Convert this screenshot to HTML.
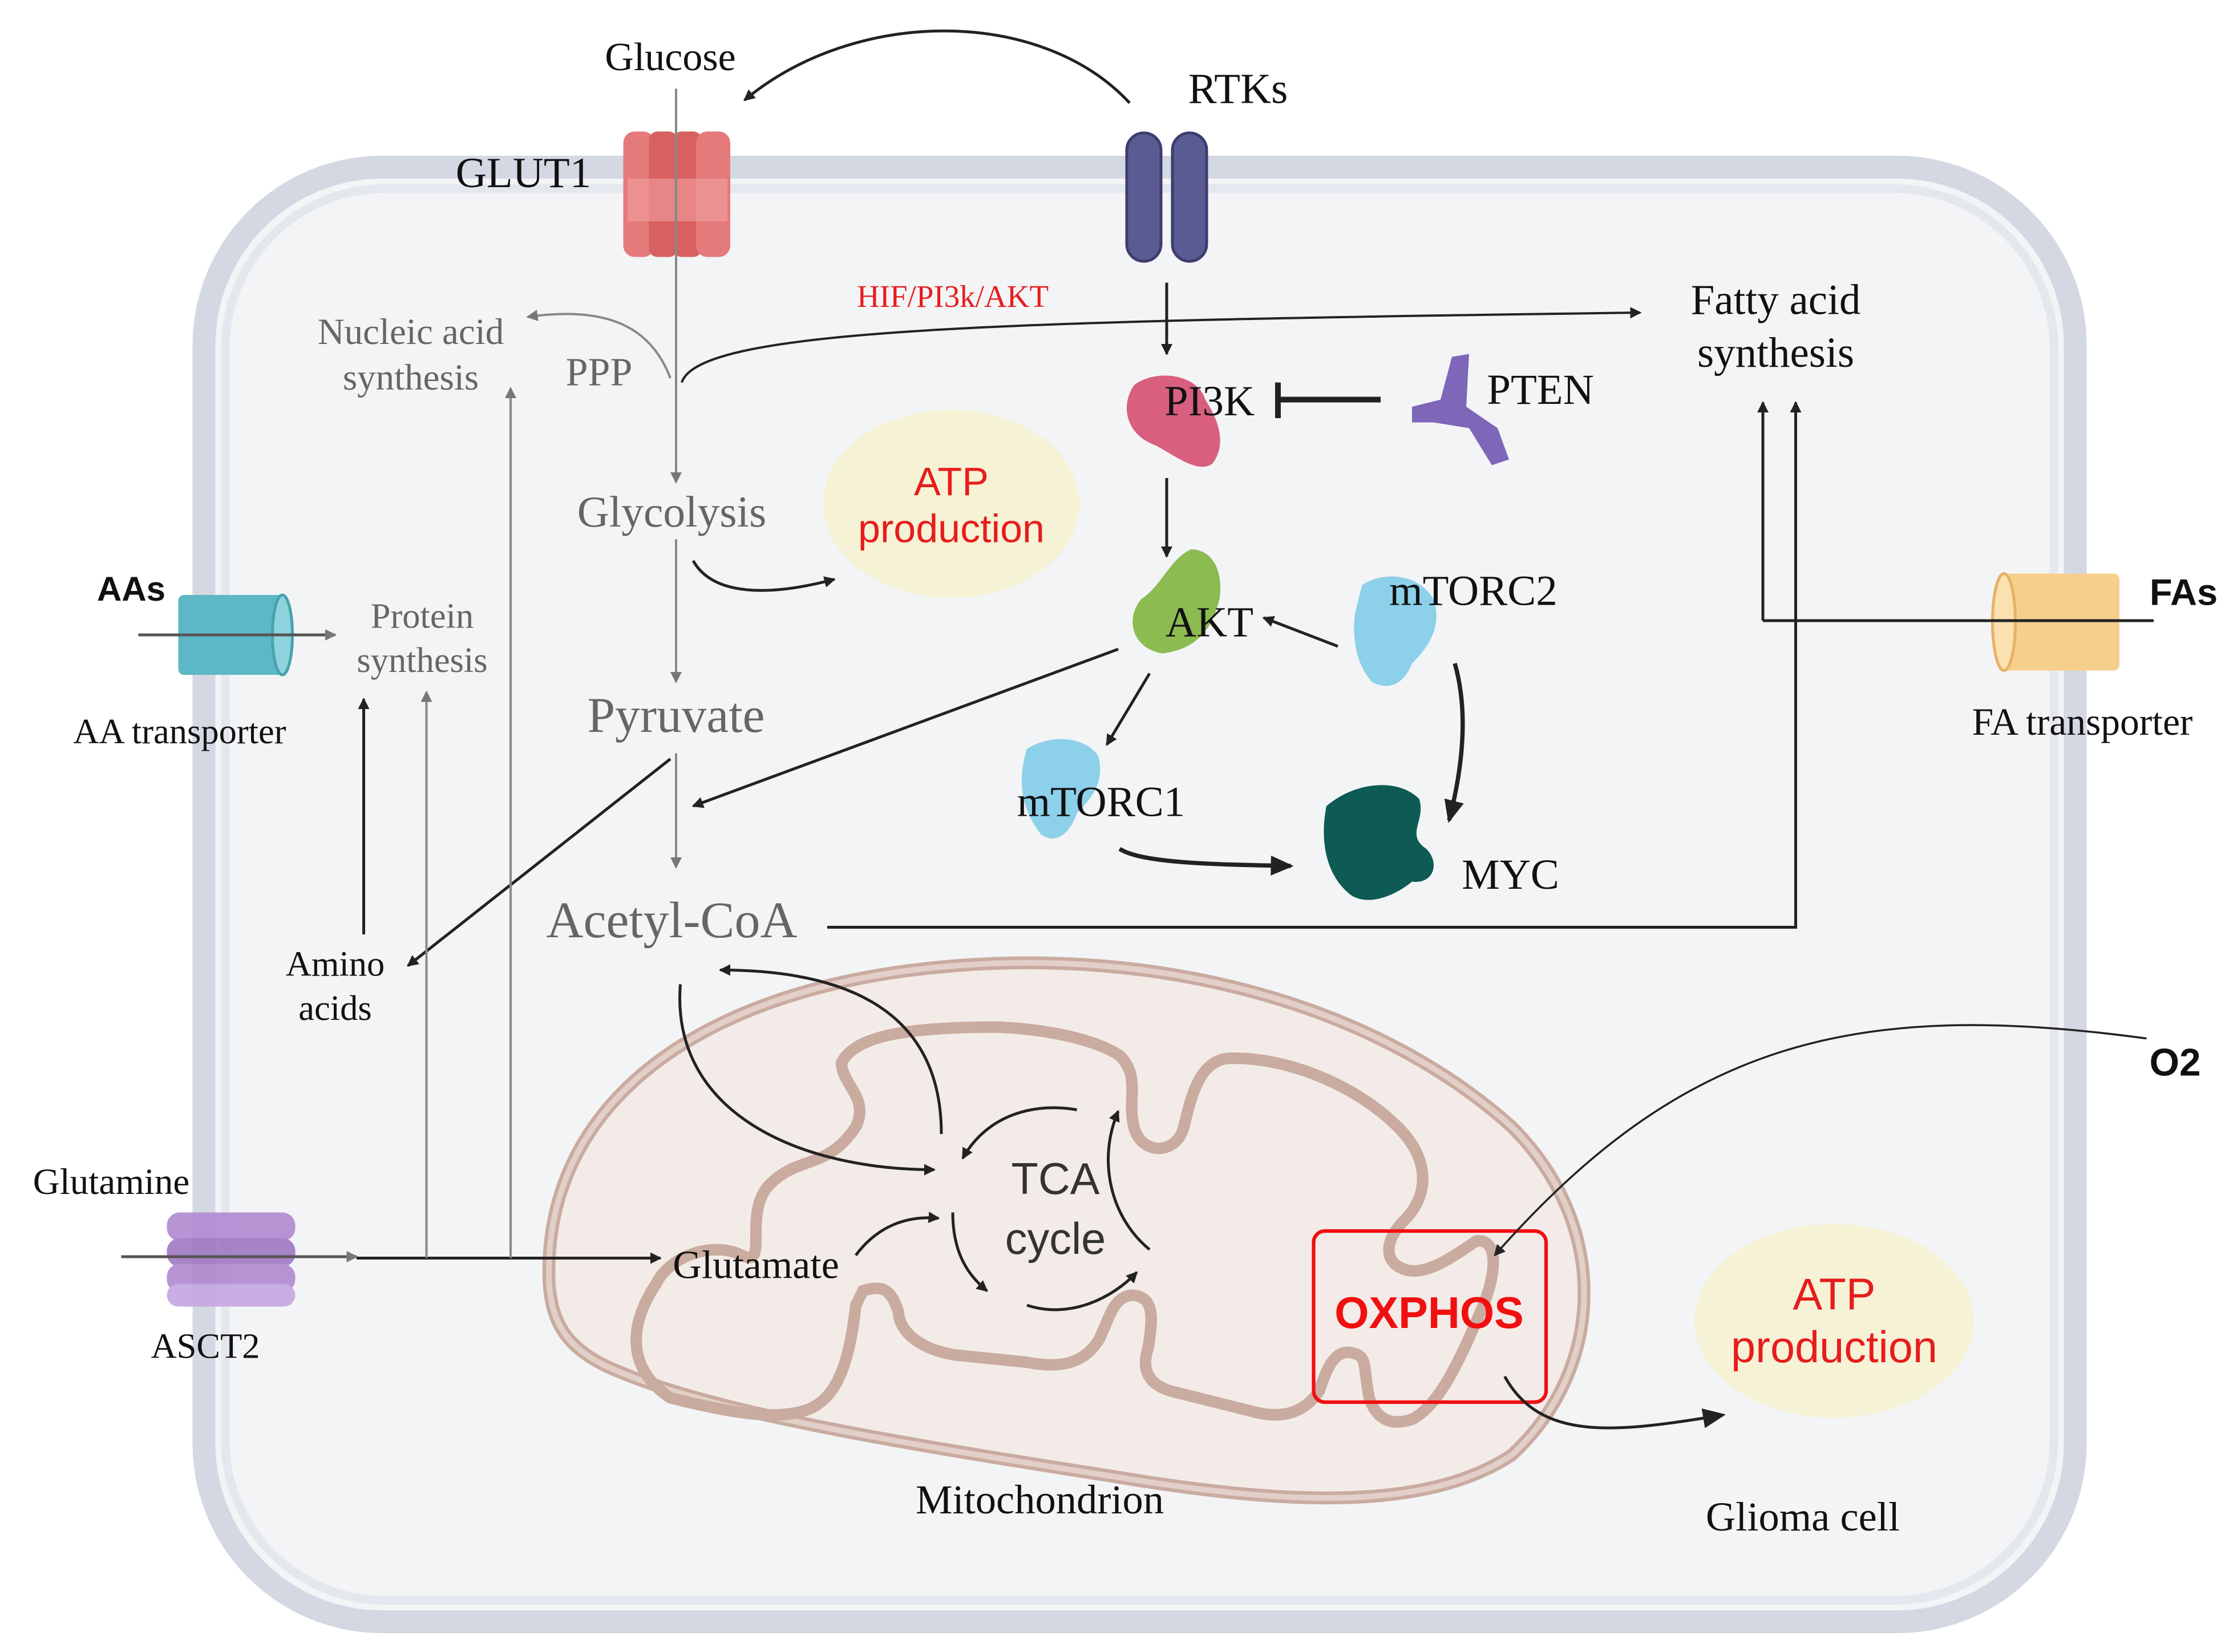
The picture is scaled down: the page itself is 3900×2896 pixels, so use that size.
<!DOCTYPE html>
<html><head><meta charset="utf-8"><style>
html,body{margin:0;padding:0;background:#fff;}
svg{display:block;}
.s{font-family:"Liberation Serif",serif;}
.a{font-family:"Liberation Sans",sans-serif;}
</style></head><body>
<svg width="3900" height="2896" viewBox="0 0 1560 1158" xmlns="http://www.w3.org/2000/svg">
<defs>
<marker id="ar" markerWidth="8" markerHeight="8" refX="7" refY="4" orient="auto" markerUnits="userSpaceOnUse"><path d="M0,0 L8,4 L0,8 Z" fill="#222"/></marker>
<marker id="ag" markerWidth="8" markerHeight="8" refX="7" refY="4" orient="auto" markerUnits="userSpaceOnUse"><path d="M0,0 L8,4 L0,8 Z" fill="#777"/></marker>
<marker id="ab" markerWidth="16" markerHeight="14" refX="14" refY="7" orient="auto" markerUnits="userSpaceOnUse"><path d="M0,0 L16,7 L0,14 Z" fill="#222"/></marker>
</defs>
<rect width="1560" height="1158" fill="#fff"/>
<rect x="143" y="117" width="1312" height="1020" rx="125" fill="#f3f4f6" stroke="#d3d8e2" stroke-width="16"/>
<rect x="158" y="132" width="1282" height="990" rx="112" fill="none" stroke="#e4e7ee" stroke-width="6"/>
<path d="M385,900 C380,780 480,700 640,680 C800,660 960,700 1060,790 C1130,860 1125,960 1060,1020 C1000,1060 900,1055 780,1035 C620,1010 500,990 430,960 C395,945 387,925 385,900 Z" fill="#f3ebe8" stroke="#c9ab9f" stroke-width="9"/>
<path d="M385,900 C380,780 480,700 640,680 C800,660 960,700 1060,790 C1130,860 1125,960 1060,1020 C1000,1060 900,1055 780,1035 C620,1010 500,990 430,960 C395,945 387,925 385,900 Z" fill="none" stroke="#e2d0c8" stroke-width="4"/>
<g fill="none">
<path id="im" d="M470,980 C440,960 440,930 460,900 C470,880 500,870 520,880 C540,890 520,850 540,830 C560,810 580,820 600,790 C610,770 590,760 590,745 C600,725 640,720 700,720 C740,722 770,730 785,740 C800,755 790,770 795,790 C800,810 825,810 830,790 C835,770 840,745 860,742 C900,740 950,760 980,790 C1005,815 1000,840 985,855 C970,870 970,885 985,890 C1000,895 1020,880 1035,870 C1050,868 1050,890 1040,915 C1025,950 1010,985 990,995 C975,1000 965,995 960,980 C955,955 960,950 945,948 C935,948 930,960 925,975 C915,990 900,995 880,990 L820,975 C805,970 800,960 805,945 C808,925 810,910 795,908 C780,908 778,925 770,940 C760,955 745,960 720,955 L670,950 C640,945 630,930 630,920 C625,905 620,900 605,905 L600,915 C595,960 585,985 560,990 C540,995 510,990 470,980 Z" stroke="#c9ab9f" stroke-width="8"/>
<use href="#im" stroke="#e2d0c8" stroke-width="3.5"/>
</g>
<ellipse cx="667" cy="353" rx="90" ry="66" fill="#f5f2d6"/>
<ellipse cx="1286" cy="926" rx="98" ry="68" fill="#f5f2d6"/>
<text x="667" y="347" text-anchor="middle" class="a" font-size="28" fill="#e81c1c">ATP</text>
<text x="667" y="380" text-anchor="middle" class="a" font-size="28" fill="#e81c1c">production</text>
<text x="1286" y="918" text-anchor="middle" class="a" font-size="31" fill="#e81c1c">ATP</text>
<text x="1286" y="955" text-anchor="middle" class="a" font-size="31" fill="#e81c1c">production</text>
<rect x="921" y="863" width="163" height="120" rx="8" fill="none" stroke="#f01010" stroke-width="2.5"/>
<text x="1002" y="931" text-anchor="middle" class="a" font-size="31" font-weight="bold" fill="#f01010">OXPHOS</text>
<g>
<rect x="437" y="92" width="22" height="88" rx="8" fill="#e57a7a"/>
<rect x="455" y="92" width="20" height="88" rx="6" fill="#d86060"/>
<rect x="472" y="92" width="20" height="88" rx="6" fill="#d86060"/>
<rect x="488" y="92" width="24" height="88" rx="8" fill="#e57a7a"/>
<rect x="440" y="125" width="70" height="30" fill="#f0a0a0" opacity="0.6"/>
</g>
<rect x="790" y="93" width="24" height="90" rx="12" fill="#5b5b94" stroke="#3d3d70" stroke-width="2"/>
<rect x="822" y="93" width="24" height="90" rx="12" fill="#5b5b94" stroke="#3d3d70" stroke-width="2"/>
<rect x="125" y="417" width="75" height="56" rx="4" fill="#5bb8c4"/>
<ellipse cx="198" cy="445" rx="7" ry="28" fill="#8fd3dc" stroke="#48a2ae" stroke-width="2"/>
<rect x="1402" y="402" width="84" height="68" rx="4" fill="#f6cf8d"/>
<ellipse cx="1405" cy="436" rx="8" ry="34" fill="#fbe0b0" stroke="#e6b266" stroke-width="2"/>
<g fill="#b08ad0" opacity="0.9">
<rect x="117" y="850" width="90" height="20" rx="9"/>
<rect x="117" y="868" width="90" height="20" rx="9" fill="#9f78c2"/>
<rect x="117" y="886" width="90" height="20" rx="9"/>
<rect x="117" y="900" width="90" height="16" rx="8" fill="#c4a6e0"/>
</g>
<path d="M795,270 C810,258 840,262 845,280 C855,295 860,312 850,325 C840,332 825,320 810,312 C790,305 785,285 795,270 Z" fill="#d95f7f"/>
<path d="M990,285 L1010,280 L1018,250 L1030,248 L1028,285 L1050,300 L1058,322 L1046,326 L1030,300 L1005,296 L990,296 Z" fill="#7e66b8"/>
<path d="M800,420 C815,410 820,392 835,385 C850,385 858,400 855,420 C850,440 840,455 815,458 C795,455 788,435 800,420 Z" fill="#8cbb52"/>
<path d="M955,410 C970,400 995,402 1005,420 C1012,440 1000,455 990,465 C985,478 975,485 962,478 C950,465 948,445 950,430 Z" fill="#8dd0ea"/>
<path d="M720,525 C735,515 760,515 770,530 C775,548 765,560 755,570 C750,585 740,592 730,585 C718,570 712,550 720,525 Z" fill="#8dd0ea"/>
<path d="M930,565 C950,548 980,545 995,560 C1000,575 985,585 1000,595 C1010,605 1005,620 990,618 C978,628 960,635 948,628 C930,615 925,590 930,565 Z" fill="#0e5a55"/>
<g fill="none" stroke="#222" stroke-width="2">
<path d="M792,72 C730,5 600,5 522,70" marker-end="url(#ar)"/>
<line x1="818" y1="198" x2="818" y2="248" marker-end="url(#ar)"/>
<line x1="818" y1="335" x2="818" y2="390" marker-end="url(#ar)"/>
<path d="M478,268 C490,230 700,225 1150,219" stroke-width="1.6" marker-end="url(#ar)"/>
<line x1="938" y1="453" x2="886" y2="433" marker-end="url(#ar)"/>
<line x1="806" y1="472" x2="776" y2="522" marker-end="url(#ar)"/>
<line x1="784" y1="455" x2="486" y2="565" marker-end="url(#ar)"/>
<line x1="470" y1="532" x2="286" y2="677" marker-end="url(#ar)"/>
<line x1="255" y1="655" x2="255" y2="490" marker-end="url(#ar)"/>
<line x1="97" y1="445" x2="235" y2="445" stroke="#555" marker-end="url(#ag)"/>
<line x1="1510" y1="435" x2="1236" y2="435"/>
<line x1="1236" y1="435" x2="1236" y2="282" marker-end="url(#ar)"/>
<polyline points="580,650 1259,650 1259,282" marker-end="url(#ar)"/>
<line x1="85" y1="881" x2="250" y2="881" stroke="#555" marker-end="url(#ag)"/>
<line x1="250" y1="882" x2="463" y2="882" marker-end="url(#ar)"/>
<path d="M600,880 C615,860 635,852 658,854" marker-end="url(#ar)"/>
<path d="M477,690 C470,780 560,820 655,820" marker-end="url(#ar)"/>
<path d="M660,795 C660,720 610,680 505,680" marker-end="url(#ar)"/>
<path d="M755,778 C720,772 690,785 675,812" marker-end="url(#ar)"/>
<path d="M778,788 C805,810 815,850 800,885" transform="rotate(180 792 832)" marker-end="url(#ar)"/>
<path d="M668,850 C668,880 680,895 692,905" marker-end="url(#ar)"/>
<path d="M720,915 C750,925 780,910 797,892" marker-end="url(#ar)"/>
<path d="M1505,728 C1300,700 1180,730 1048,880" stroke-width="1.4" marker-end="url(#ar)"/>
<path d="M1055,965 C1080,1010 1130,1005 1208,992" marker-end="url(#ab)"/>
<path d="M486,393 C500,418 540,418 585,406" marker-end="url(#ar)"/>
<path d="M785,595 C800,605 850,606 905,607" stroke-width="3" marker-end="url(#ab)"/>
<path d="M1020,465 C1030,500 1025,540 1016,575" stroke-width="3" marker-end="url(#ab)"/>
<line x1="968" y1="280" x2="898" y2="280" stroke-width="4"/>
<line x1="896" y1="268" x2="896" y2="293" stroke-width="4"/>
</g>
<g fill="none" stroke="#888" stroke-width="1.6">
<line x1="474" y1="62" x2="474" y2="338" marker-end="url(#ag)"/>
<path d="M470,265 C455,225 420,215 370,222" marker-end="url(#ag)"/>
<line x1="474" y1="378" x2="474" y2="478" marker-end="url(#ag)"/>
<line x1="474" y1="528" x2="474" y2="608" marker-end="url(#ag)"/>
<line x1="299" y1="882" x2="299" y2="485" marker-end="url(#ag)"/>
<line x1="358" y1="882" x2="358" y2="272" marker-end="url(#ag)"/>
</g>
<g class="s" fill="#111">
<text x="470" y="49" text-anchor="middle" font-size="28">Glucose</text>
<text x="868" y="72" text-anchor="middle" font-size="30">RTKs</text>
<text x="367" y="131" text-anchor="middle" font-size="30">GLUT1</text>
<text x="1245" y="220" text-anchor="middle" font-size="30">Fatty acid</text>
<text x="1245" y="257" text-anchor="middle" font-size="30">synthesis</text>
<text x="848" y="291" text-anchor="middle" font-size="30">PI3K</text>
<text x="1080" y="283" text-anchor="middle" font-size="30">PTEN</text>
<text x="848" y="446" text-anchor="middle" font-size="30">AKT</text>
<text x="1033" y="424" text-anchor="middle" font-size="30">mTORC2</text>
<text x="772" y="572" text-anchor="middle" font-size="30">mTORC1</text>
<text x="1059" y="623" text-anchor="middle" font-size="30">MYC</text>
<text x="126" y="521" text-anchor="middle" font-size="25">AA transporter</text>
<text x="1460" y="515" text-anchor="middle" font-size="27">FA transporter</text>
<text x="235" y="684" text-anchor="middle" font-size="25">Amino</text>
<text x="235" y="715" text-anchor="middle" font-size="25">acids</text>
<text x="78" y="837" text-anchor="middle" font-size="26">Glutamine</text>
<text x="144" y="952" text-anchor="middle" font-size="25">ASCT2</text>
<text x="530" y="896" text-anchor="middle" font-size="28">Glutamate</text>
<text x="729" y="1061" text-anchor="middle" font-size="29">Mitochondrion</text>
<text x="1264" y="1073" text-anchor="middle" font-size="29">Glioma cell</text>
</g>
<g class="a" fill="#111" font-weight="bold">
<text x="92" y="421" text-anchor="middle" font-size="24">AAs</text>
<text x="1531" y="424" text-anchor="middle" font-size="26">FAs</text>
<text x="1525" y="754" text-anchor="middle" font-size="27">O2</text>
</g>
<g class="s" fill="#666">
<text x="288" y="241" text-anchor="middle" font-size="26">Nucleic acid</text>
<text x="288" y="273" text-anchor="middle" font-size="26">synthesis</text>
<text x="420" y="270" text-anchor="middle" font-size="28">PPP</text>
<text x="471" y="369" text-anchor="middle" font-size="31">Glycolysis</text>
<text x="296" y="440" text-anchor="middle" font-size="25">Protein</text>
<text x="296" y="471" text-anchor="middle" font-size="25">synthesis</text>
<text x="474" y="513" text-anchor="middle" font-size="35">Pyruvate</text>
<text x="471" y="657" text-anchor="middle" font-size="36">Acetyl-CoA</text>
</g>
<text x="668" y="215" text-anchor="middle" class="s" font-size="22" fill="#e81c1c">HIF/PI3k/AKT</text>
<text x="740" y="837" text-anchor="middle" class="a" font-size="31" fill="#333">TCA</text>
<text x="740" y="879" text-anchor="middle" class="a" font-size="31" fill="#333">cycle</text>
</svg>
</body></html>
